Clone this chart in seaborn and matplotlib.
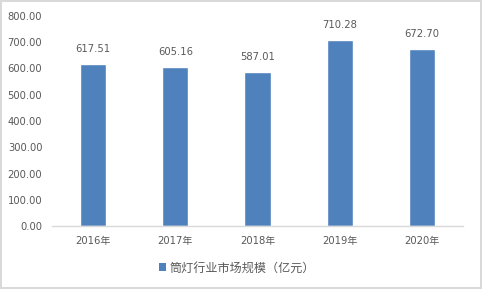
import matplotlib
matplotlib.use("Agg")
import matplotlib.pyplot as plt
import seaborn as sns
import pandas as pd
from matplotlib.patches import Patch

years = ["2016年", "2017年", "2018年", "2019年", "2020年"]
values = [617.51, 605.16, 587.01, 710.28, 672.70]
series_name = "筒灯行业市场规模（亿元）"
yticks = [0, 100, 200, 300, 400, 500, 600, 700, 800]

sns.set_theme(style="white")
plt.rcParams['font.family'] = ['DejaVu Sans', 'Noto Sans CJK SC']

df = pd.DataFrame({"year": years, "value": values})
bar_color = "#4F81BD"
text_color = "#595959"

fig = plt.figure(figsize=(4.82, 2.89), dpi=100)
fig.patch.set_edgecolor("#D9D9D9")
fig.patch.set_linewidth(1.5)
ax = fig.add_axes([52/482, (289-226)/289, (463-52)/482, 210/289])

sns.barplot(data=df, x="year", y="value", color=bar_color, width=0.32,
            saturation=1, ax=ax)

ax.set_ylim(0, 800)
ax.set_yticks(yticks)
ax.set_yticklabels([f"{v:.2f}" for v in yticks], fontsize=7.2, color=text_color)
ax.set_xticklabels(years, fontsize=7.2, color=text_color)
ax.set_xlabel("")
ax.set_ylabel("")
for s in ["top", "right", "left"]:
    ax.spines[s].set_visible(False)
ax.spines["bottom"].set_color("#D9D9D9")
ax.spines["bottom"].set_linewidth(1)
ax.tick_params(axis="both", length=0, pad=7)

for i, v in enumerate(values):
    ax.text(i, v + 38, f"{v:.2f}", ha="center", va="bottom", fontsize=7.2,
            color=text_color)

handle = Patch(facecolor=bar_color, edgecolor="none")
fig.legend([handle], [series_name], loc="center", bbox_to_anchor=(237/482, 1 - 268/289),
           frameon=False, prop={"family": ["Noto Sans CJK SC"], "size": 8.7},
           handlelength=0.6, handleheight=0.6,
           handletextpad=0.3, labelcolor=text_color)

fig.savefig("out.png", dpi=100, edgecolor=fig.get_edgecolor())
